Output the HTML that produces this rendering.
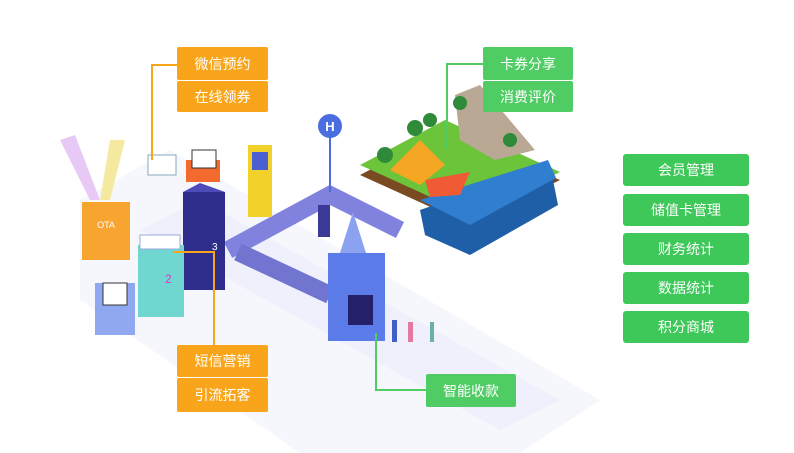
<!DOCTYPE html>
<html><head><meta charset="utf-8"><style>
body{margin:0;width:794px;height:453px;background:#fff;position:relative;overflow:hidden;font-family:"Liberation Sans","Noto Sans CJK SC",sans-serif}
.b{position:absolute;color:#fff;font-size:14px;display:flex;align-items:center;justify-content:center;border-radius:2px}
.o{background:#f8a51b;width:91px}
.g{background:#4fcc63;width:90px}
.r{background:#3fc85a;width:126px;left:623px;height:32px;border-radius:3px}
svg{position:absolute;left:0;top:0}
</style></head><body>
<svg width="794" height="453" viewBox="0 0 794 453">
<polygon points="80,200 170,150 600,400 520,453 300,453 80,300" fill="#f6f7fd"/>
<polygon points="140,230 200,200 560,400 500,430" fill="#eff0fb"/>
<!-- island -->
<polygon points="360,175 445,130 560,180 470,225" fill="#7a4a22"/>
<polygon points="360,165 445,120 560,172 470,215" fill="#6cc43a"/>
<polygon points="420,210 550,165 558,205 470,255 425,235" fill="#1f5fa8"/>
<polygon points="420,200 548,160 556,178 470,225" fill="#2f7ed0"/>
<polygon points="455,95 480,85 535,150 495,160 460,140" fill="#b8a894"/>
<polygon points="390,170 420,140 445,165 420,185" fill="#f5a623"/>
<polygon points="425,180 470,172 460,195 430,197" fill="#f05a35"/>
<circle cx="385" cy="155" r="8" fill="#2f8a3a"/><circle cx="415" cy="128" r="8" fill="#2f8a3a"/><circle cx="430" cy="120" r="7" fill="#2f8a3a"/><circle cx="510" cy="140" r="7" fill="#2f8a3a"/><circle cx="460" cy="103" r="7" fill="#2f8a3a"/>
<!-- path -->
<polyline points="228,250 330,195 400,230" fill="none" stroke="#8082de" stroke-width="18"/>
<polyline points="238,252 330,295" fill="none" stroke="#7275d0" stroke-width="18"/>
<rect x="318" y="205" width="12" height="32" fill="#3c3a98"/>
<!-- H sign -->
<line x1="330" y1="130" x2="330" y2="192" stroke="#4a6ee0" stroke-width="2"/>
<circle cx="330" cy="126" r="12" fill="#4a6ee0"/><text x="330" y="131" font-size="13" fill="#fff" text-anchor="middle" font-weight="bold">H</text>
<!-- yellow kiosk -->
<rect x="248" y="145" width="24" height="72" fill="#f2d22a"/><rect x="252" y="152" width="16" height="18" fill="#4b5fd0"/>
<!-- tower 3 -->
<rect x="183" y="192" width="42" height="98" fill="#2f2d8c"/><polygon points="183,192 200,183 225,192" fill="#4e4bb8"/>
<text x="212" y="250" font-size="10" fill="#fff">3</text>
<rect x="186" y="160" width="34" height="22" fill="#f26a2e"/><rect x="192" y="150" width="24" height="18" fill="#fff" stroke="#333" stroke-width="1"/>
<!-- blue tower -->
<rect x="328" y="253" width="57" height="88" fill="#5b7be8"/><rect x="348" y="295" width="25" height="30" fill="#24206a"/>
<polygon points="340,253 353,212 366,253" fill="#8aa2f0"/>
<!-- box 2 -->
<rect x="138" y="245" width="46" height="72" fill="#6fd7cf"/><text x="165" y="283" font-size="12" fill="#d03fc8">2</text>
<rect x="140" y="235" width="40" height="14" fill="#fff" stroke="#9ad" stroke-width="1"/>
<!-- box 1 -->
<rect x="95" y="283" width="40" height="52" fill="#8fa8f0"/><rect x="103" y="283" width="24" height="22" fill="#fff" stroke="#333"/>
<!-- OTA box -->
<rect x="82" y="202" width="48" height="58" fill="#f7a431"/><text x="106" y="228" font-size="9" fill="#fff" text-anchor="middle">OTA</text>
<polygon points="60,140 90,200 100,200 75,135" fill="#e8c8f5"/><polygon points="110,140 100,200 110,200 125,140" fill="#f5e9a0"/>
<rect x="148" y="155" width="28" height="20" fill="#fff" stroke="#8ab" stroke-width="1"/>
<!-- people -->
<rect x="392" y="320" width="5" height="22" fill="#3f5fc8"/><rect x="408" y="322" width="5" height="20" fill="#e47aa0"/><rect x="430" y="322" width="4" height="20" fill="#6bb0a8"/>
<!-- connectors -->
<polyline points="177,65 152,65 152,160" fill="none" stroke="#f8a51b" stroke-width="2"/>
<polyline points="173,252 214,252 214,345" fill="none" stroke="#f8a51b" stroke-width="2"/>
<polyline points="483,64 447,64 447,150" fill="none" stroke="#4fcc63" stroke-width="2"/>
<polyline points="376,333 376,390 426,390" fill="none" stroke="#4fcc63" stroke-width="2"/>
</svg>
<div class="b o" style="left:177px;top:47px;height:33px">微信预约</div>
<div class="b o" style="left:177px;top:81px;height:31px">在线领券</div>
<div class="b o" style="left:177px;top:345px;height:32px">短信营销</div>
<div class="b o" style="left:177px;top:378px;height:34px">引流拓客</div>
<div class="b g" style="left:483px;top:47px;height:33px">卡券分享</div>
<div class="b g" style="left:483px;top:81px;height:31px">消费评价</div>
<div class="b g" style="left:426px;top:374px;height:33px">智能收款</div>
<div class="b r" style="top:154px">会员管理</div>
<div class="b r" style="top:194px">储值卡管理</div>
<div class="b r" style="top:233px">财务统计</div>
<div class="b r" style="top:272px">数据统计</div>
<div class="b r" style="top:311px">积分商城</div>
</body></html>
